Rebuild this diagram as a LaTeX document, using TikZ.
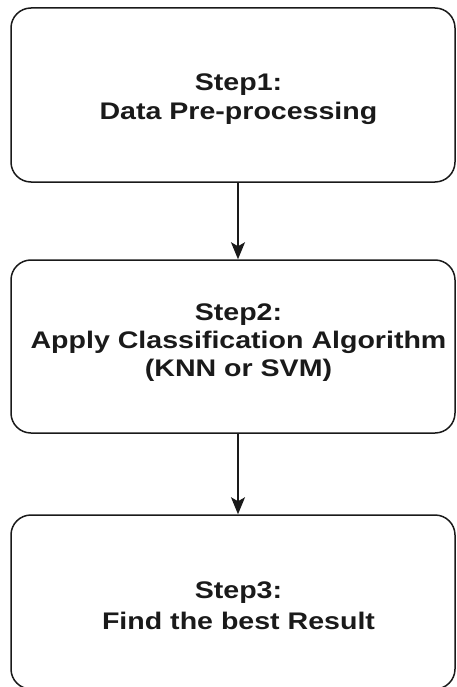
\documentclass[tikz,border=0pt]{standalone}
\usepackage{fontspec}
\setmainfont{Liberation Sans}
\newfontfamily\boxfont[FakeStretch=1.19]{Liberation Sans Bold}
\usetikzlibrary{arrows.meta}
\definecolor{ink}{HTML}{1A1A1A}
\tikzset{
  stepbox/.style={draw=ink, line width=1.5pt, rounded corners=20pt,
    minimum width=444pt, inner sep=0pt},
  steptext/.style={align=center, text=ink, inner sep=0pt,
    font=\boxfont\fontsize{24}{28}\selectfont},
  arr/.style={draw=ink, line width=1.5pt,
    -{Stealth[length=17pt,width=14pt,inset=4pt]}}
}
\begin{document}
\begin{tikzpicture}[x=1pt,y=-1pt]
\useasboundingbox (0,0) rectangle (457,687);
\clip (0,0) rectangle (457,687);
\node[stepbox, minimum height=174pt] (s1) at (233,95) {};
\node[stepbox, minimum height=173pt] (s2) at (233,346.5) {};
\node[stepbox, minimum height=174pt] (s3) at (233,602) {};
\node[steptext] (t1) at ([xshift=5.5pt,yshift=-4.3pt]s1.center) {Step1:\\[1.5pt]Data Pre-processing};
\node[steptext] (t2) at ([xshift=5.5pt,yshift=4pt]s2.center) {Step2:\\Apply Classification Algorithm\\(KNN or SVM)};
\node[steptext] (t3) at ([xshift=5.5pt,yshift=-3.8pt]s3.center) {Step3:\\[2.5pt]Find the best Result};
\draw[arr] ([xshift=5pt]s1.south) -- ([xshift=5pt]s2.north);
\draw[arr] ([xshift=5pt]s2.south) -- ([xshift=5pt]s3.north);
\end{tikzpicture}
\end{document}
